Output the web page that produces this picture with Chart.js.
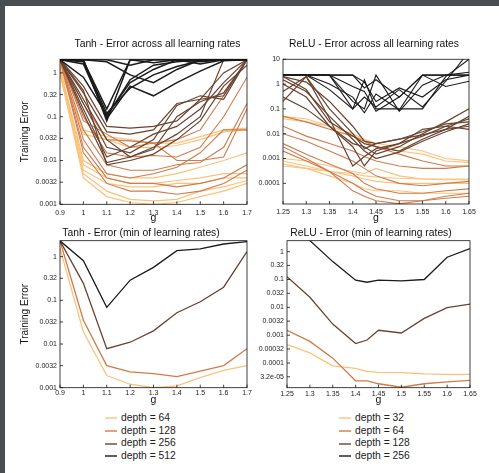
<!DOCTYPE html>
<html>
<head>
<meta charset="utf-8">
<script src="https://cdn.jsdelivr.net/npm/chart.js@4.4.1/dist/chart.umd.min.js"></script>
<style>
  html, body { margin: 0; padding: 0; background: #fff; overflow: hidden; }
  #page { position: relative; width: 499px; height: 473px; background: #fff; overflow: hidden; }
  .strip { position: absolute; background: #4b4e51; }
  canvas { position: absolute; }
  .legend { position: absolute; font-family: 'Liberation Sans', Arial, sans-serif; font-size: 10.3px; color: #222; }
  .legend div { height: 12.7px; line-height: 12.7px; white-space: nowrap; }
  .legend span { display: inline-block; width: 12px; height: 2px; vertical-align: middle; margin-right: 4px; opacity: 0.7; }
</style>
</head>
<body>
<div id="page">
  <div class="strip" style="left:0;top:0;width:5px;height:473px"></div>
  <div class="strip" style="left:0;top:0;width:499px;height:6px"></div>
  <canvas id="tanhAll" width="295" height="196" style="left:10px;top:28px"></canvas>
  <canvas id="reluAll" width="248" height="196" style="left:250px;top:28px"></canvas>
  <canvas id="tanhMin" width="262" height="188" style="left:10px;top:218px"></canvas>
  <canvas id="reluMin" width="242" height="188" style="left:250px;top:218px"></canvas>
  <div class="legend" id="tanhLegend" style="left:105px;top:412px"></div>
  <div class="legend" id="reluLegend" style="left:339px;top:412px"></div>
</div>
<script>
const FONT = "'Liberation Sans', Arial, sans-serif";

// x values (g)
const gTanh = [0.9, 1.0, 1.1, 1.2, 1.3, 1.4, 1.5, 1.6, 1.7];
const gRelu = [1.25, 1.3, 1.35, 1.4, 1.425, 1.45, 1.5, 1.55, 1.6, 1.65];

// tick values / labels
const tanhXTicks = [0.9, 1.0, 1.1, 1.2, 1.3, 1.4, 1.5, 1.6, 1.7];
const tanhXLabels = ['0.9', '1', '1.1', '1.2', '1.3', '1.4', '1.5', '1.6', '1.7'];
const reluXTicks = [1.25, 1.3, 1.35, 1.4, 1.45, 1.5, 1.55, 1.6, 1.65];
const reluXLabels = ['1.25', '1.3', '1.35', '1.4', '1.45', '1.5', '1.55', '1.6', '1.65'];
const tanhYTicks = [1, 0.32, 0.1, 0.032, 0.01, 0.0032, 0.001];
const tanhYLabels = ['1', '0.32', '0.1', '0.032', '0.01', '0.0032', '0.001'];
const reluAllYTicks = [10, 1, 0.1, 0.01, 0.001, 0.0001];
const reluAllYLabels = ['10', '1', '0.1', '0.01', '0.001', '0.0001'];
const reluMinYTicks = [1, 0.32, 0.1, 0.032, 0.01, 0.0032, 0.001, 0.00032, 0.0001, 0.000032];
const reluMinYLabels = ['1', '0.32', '0.1', '0.032', '0.01', '0.0032', '0.001', '0.00032', '0.0001', '3.2e-05'];

// legend
const tanhDepths = ['depth = 64', 'depth = 128', 'depth = 256', 'depth = 512'];
const reluDepths = ['depth = 32', 'depth = 64', 'depth = 128', 'depth = 256'];
const depthColors = ['#fcc27a', '#d07b4b', '#6a4330', '#1b1b1b'];

// Tanh, every learning rate (one row per learning rate)
const tanhAll512 = [
  [2, 2, 0.08, 2, 2, 2, 2, 2, 2],
  [2, 1.6, 0.1, 0.7, 1.5, 1.8, 2, 2, 2],
  [2, 1.8, 0.12, 0.45, 0.9, 1.4, 1.9, 2, 2],
  [2, 2, 0.09, 0.5, 0.3, 0.6, 1.1, 1.9, 2],
  [2, 2, 1.8, 0.9, 0.6, 1.2, 2, 2, 2],
  [2, 2, 2, 1.5, 2, 2, 2, 2, 2],
  [2, 1.9, 0.15, 2, 1.7, 2, 1.6, 2, 2],
  [2, 0.8, 0.11, 0.6, 1.2, 2, 1.8, 2, 2]
];
const tanhAll256 = [
  [2, 0.5, 0.06, 0.055, 0.06, 0.08, 0.25, 1.0, 2],
  [2, 0.35, 0.045, 0.04, 0.05, 0.2, 0.25, 0.3, 2],
  [2, 0.25, 0.03, 0.012, 0.02, 0.04, 0.1, 2, 2],
  [2, 0.2, 0.02, 0.015, 0.03, 0.18, 0.3, 0.25, 2],
  [2, 0.15, 0.012, 0.02, 0.04, 0.06, 0.15, 0.6, 2],
  [2, 0.12, 0.009, 0.012, 0.018, 0.1, 0.22, 0.35, 2],
  [2, 0.4, 0.008, 0.01, 0.014, 0.03, 0.08, 0.5, 1.5]
];
const tanhAll128 = [
  [2, 0.2, 0.03, 0.028, 0.025, 0.03, 0.05, 0.3, 2],
  [2, 0.1, 0.015, 0.012, 0.013, 0.012, 0.02, 0.1, 0.8],
  [2, 0.05, 0.008, 0.006, 0.006, 0.008, 0.009, 0.02, 0.2],
  [2, 0.03, 0.005, 0.004, 0.005, 0.007, 0.015, 0.05, 0.05],
  [2, 0.02, 0.004, 0.003, 0.003, 0.0025, 0.003, 0.004, 0.008],
  [2, 0.015, 0.003, 0.002, 0.002, 0.0017, 0.002, 0.003, 0.006],
  [2, 0.08, 0.04, 0.02, 0.025, 0.01, 0.01, 0.012, 0.15]
];
const tanhAll64 = [
  [1.2, 0.05, 0.035, 0.03, 0.025, 0.025, 0.035, 0.05, 0.055],
  [1.5, 0.04, 0.03, 0.02, 0.02, 0.022, 0.03, 0.045, 0.05],
  [1.3, 0.01, 0.005, 0.004, 0.004, 0.005, 0.007, 0.01, 0.015],
  [1.2, 0.008, 0.004, 0.003, 0.003, 0.0035, 0.004, 0.005, 0.005],
  [1.1, 0.006, 0.003, 0.0025, 0.0025, 0.003, 0.003, 0.004, 0.004],
  [1.0, 0.004, 0.0015, 0.0011, 0.001, 0.0011, 0.0015, 0.002, 0.003],
  [1.0, 0.005, 0.002, 0.0013, 0.0012, 0.0013, 0.002, 0.0025, 0.0035]
];

// ReLU, every learning rate
const reluAll256 = [
  [2.3, 2.3, 2.3, 2.3, 0.7, 1.5, 0.3, 2.3, 2.3, 2.3],
  [2.3, 2.3, 2.3, 0.1, 1.5, 0.1, 0.1, 0.1, 2, 10],
  [2.3, 2.3, 0.6, 0.1, 0.3, 0.12, 0.6, 0.12, 1.3, 20],
  [2.3, 2.3, 2.3, 0.2, 0.1, 2.3, 0.08, 0.9, 2.3, 3],
  [2.3, 2.3, 1, 0.3, 0.07, 0.4, 0.09, 2.3, 0.8, 1.3],
  [2.3, 2.3, 2.3, 2.3, 1.2, 0.2, 0.7, 0.3, 1.5, 2.3],
  [2.3, 2.3, 2.3, 0.8, 0.5, 0.08, 0.3, 2.3, 2.3, 2.3]
];
const reluAll128 = [
  [2, 0.6, 0.03, 0.008, 0.004, 0.003, 0.002, 0.006, 0.015, 0.05],
  [1, 0.3, 0.02, 0.004, 0.003, 0.0015, 0.003, 0.01, 0.03, 0.1],
  [0.5, 2, 0.1, 0.01, 0.0025, 0.004, 0.006, 0.012, 0.025, 0.03],
  [0.3, 0.1, 0.02, 0.003, 0.0005, 0.002, 0.004, 0.008, 0.02, 0.04],
  [0.2, 2, 0.04, 0.0005, 0.0012, 0.0025, 0.004, 0.015, 0.02, 0.015],
  [1.5, 0.5, 0.05, 0.006, 0.002, 0.001, 0.0018, 0.005, 0.012, 0.025],
  [2, 1.2, 0.2, 0.02, 0.005, 0.004, 0.006, 0.009, 0.015, 0.02]
];
const reluAll64 = [
  [0.05, 0.03, 0.015, 0.008, 0.005, 0.003, 0.0015, 0.0008, 0.0005, 0.0005],
  [0.02, 0.008, 0.004, 0.002, 0.0012, 0.0008, 0.0005, 0.0004, 0.0004, 0.0005],
  [0.01, 0.005, 0.002, 0.0008, 0.0004, 0.0002, 0.0001, 0.00008, 0.0001, 0.00012],
  [0.004, 0.0015, 0.0006, 0.00025, 0.0001, 0.00006, 0.00004, 0.00004, 0.00005, 0.00006],
  [0.002, 0.0008, 0.0003, 0.0001, 0.00005, 0.00003, 0.00002, 0.00002, 0.00003, 0.00004],
  [0.003, 0.001, 0.0003, 0.00005, 0.00003, 0.00002, 0.000015, 0.00002, 0.000025, 0.00003]
];
const reluAll32 = [
  [0.05, 0.04, 0.02, 0.01, 0.006, 0.004, 0.003, 0.002, 0.001, 0.0008],
  [0.04, 0.03, 0.02, 0.01, 0.005, 0.003, 0.002, 0.0015, 0.0008, 0.0007],
  [0.001, 0.0008, 0.0005, 0.0003, 0.00025, 0.0004, 0.0002, 0.00015, 0.00014, 0.00014],
  [0.0008, 0.0005, 0.0003, 0.00025, 0.0002, 0.00018, 0.00016, 0.00015, 0.00015, 0.00015],
  [0.0005, 0.0004, 0.0003, 0.0002, 0.00015, 0.00012, 0.0001, 0.0001, 0.0001, 0.0001],
  [0.0006, 0.0004, 0.0002, 0.0001, 0.00006, 0.00005, 0.00005, 0.00004, 0.00004, 0.00004]
];

// minimum over learning rates
const tanhMin512 = [2.3, 0.81, 0.069, 0.29, 0.57, 1.37, 1.5, 1.95, 2.2];
const tanhMin256 = [2.3, 0.245, 0.0078, 0.011, 0.02, 0.052, 0.093, 0.2, 1.3];
const tanhMin128 = [2.3, 0.035, 0.0032, 0.0023, 0.0021, 0.0018, 0.0024, 0.0032, 0.0078];
const tanhMin64 = [1.55, 0.019, 0.0019, 0.0012, 0.001, 0.0011, 0.0017, 0.0025, 0.0032];
const reluMin256 = [6, 2.5, 0.44, 0.095, 0.08, 0.095, 0.09, 0.1, 0.63, 1.3];
const reluMin128 = [0.126, 0.023, 0.0025, 0.0005, 0.00067, 0.0015, 0.0012, 0.004, 0.0098, 0.013];
const reluMin64 = [0.0015, 0.0006, 0.00015, 0.000023, 0.000023, 0.000018, 0.0000135, 0.000018, 0.000021, 0.000024];
const reluMin32 = [0.00046, 0.00023, 0.000079, 0.000064, 0.00005, 0.000046, 0.000045, 0.000041, 0.000039, 0.000039];

function series(xs, vals, color, width, label) {
  return {
    label: label || '',
    data: xs.map((x, i) => ({ x, y: vals[i] })),
    borderColor: color,
    borderWidth: width,
    pointRadius: 0,
    tension: 0,
    fill: false
  };
}

// darkest group first so it is drawn on top
function groupSets(xs, groups, widths) {
  const sets = [];
  groups.forEach((rows, gi) => {
    rows.forEach(vals => sets.push(series(xs, vals, depthColors[3 - gi], widths[gi])));
  });
  return sets;
}

const framePlugin = {
  id: 'frame',
  afterDatasetsDraw(chart) {
    const { ctx, chartArea: a, scales } = chart;
    ctx.save();
    ctx.strokeStyle = '#111';
    ctx.lineWidth = 0.8;
    ctx.strokeRect(a.left, a.top, a.right - a.left, a.bottom - a.top);
    ctx.beginPath();
    scales.x.ticks.forEach(t => {
      const px = scales.x.getPixelForValue(t.value);
      ctx.moveTo(px, a.bottom);
      ctx.lineTo(px, a.bottom - 3);
    });
    scales.y.ticks.forEach(t => {
      const py = scales.y.getPixelForValue(t.value);
      ctx.moveTo(a.left, py);
      ctx.lineTo(a.left + 3, py);
    });
    ctx.stroke();
    ctx.restore();
  }
};

function makeChart(id, o) {
  return new Chart(document.getElementById(id), {
    type: 'line',
    data: { datasets: o.datasets },
    options: {
      responsive: false,
      animation: false,
      events: [],
      layout: { padding: 0 },
      plugins: {
        legend: { display: false },
        tooltip: { enabled: false },
        title: {
          display: true,
          text: o.title,
          color: '#111',
          font: { family: FONT, size: 10.3, weight: 'normal' },
          padding: { top: o.titleTop, bottom: o.titleBottom }
        }
      },
      scales: {
        x: {
          type: 'linear',
          min: o.xMin,
          max: o.xMax,
          bounds: 'data',
          grid: { display: false, drawTicks: false },
          border: { display: false },
          ticks: {
            autoSkip: false, maxRotation: 0, padding: o.xPad,
            color: '#222', font: { family: FONT, size: 7 },
            callback: (v, i) => o.xLabels[i]
          },
          afterBuildTicks: s => { s.ticks = o.xTicks.map(v => ({ value: v })); },
          afterFit: s => { s.height = o.xHeight; },
          title: { display: true, text: 'g', color: '#111', padding: 0, font: { family: FONT, size: 10.5 } }
        },
        y: {
          type: 'logarithmic',
          min: o.yMin,
          max: o.yMax,
          bounds: 'data',
          grid: { display: false, drawTicks: false },
          border: { display: false },
          ticks: {
            autoSkip: false, padding: 3,
            color: '#222', font: { family: FONT, size: 7 },
            callback: (v, i) => o.yLabels[i]
          },
          afterBuildTicks: s => { s.ticks = o.yTicks.map(v => ({ value: v })); },
          afterFit: s => { s.width = o.yWidth; },
          title: o.yTitle
            ? { display: true, text: 'Training Error', color: '#111', padding: { top: 9, bottom: 0 }, font: { family: FONT, size: 10 } }
            : { display: false }
        },
        pad: {
          position: 'right',
          grid: { display: false, drawTicks: false },
          border: { display: false },
          ticks: { display: false },
          afterFit: s => { s.width = o.rightWidth; }
        }
      }
    },
    plugins: [framePlugin]
  });
}

makeChart('tanhAll', {
  title: 'Tanh - Error across all learning rates',
  datasets: groupSets(gTanh, [tanhAll512, tanhAll256, tanhAll128, tanhAll64], [1.5, 1.2, 1.1, 1.2]),
  xMin: 0.9, xMax: 1.7, xTicks: tanhXTicks, xLabels: tanhXLabels, xPad: 4.2, xHeight: 19.7,
  yMin: 0.001, yMax: 2.05, yTicks: tanhYTicks, yLabels: tanhYLabels, yWidth: 50, yTitle: true,
  rightWidth: 58, titleTop: 10.3, titleBottom: 8.6
});

makeChart('reluAll', {
  title: 'ReLU - Error across all learning rates',
  datasets: groupSets(gRelu, [reluAll256, reluAll128, reluAll64, reluAll32], [1.1, 1.2, 1.1, 1.1]),
  xMin: 1.25, xMax: 1.65, xTicks: reluXTicks, xLabels: reluXLabels, xPad: 3.5, xHeight: 20,
  yMin: 0.0000147, yMax: 10, yTicks: reluAllYTicks, yLabels: reluAllYLabels, yWidth: 33, yTitle: false,
  rightWidth: 29, titleTop: 10.3, titleBottom: 8.6
});

makeChart('tanhMin', {
  title: 'Tanh - Error (min of learning rates)',
  datasets: [
    series(gTanh, tanhMin512, depthColors[3], 1.3, tanhDepths[3]),
    series(gTanh, tanhMin256, depthColors[2], 1.3, tanhDepths[2]),
    series(gTanh, tanhMin128, depthColors[1], 1.3, tanhDepths[1]),
    series(gTanh, tanhMin64, depthColors[0], 1.3, tanhDepths[0])
  ],
  xMin: 0.9, xMax: 1.7, xTicks: tanhXTicks, xLabels: tanhXLabels, xPad: 1.4, xHeight: 18.3,
  yMin: 0.001, yMax: 2.32, yTicks: tanhYTicks, yLabels: tanhYLabels, yWidth: 50, yTitle: true,
  rightWidth: 25, titleTop: 8.5, titleBottom: 1.84
});

makeChart('reluMin', {
  title: 'ReLU - Error (min of learning rates)',
  datasets: [
    series(gRelu, reluMin256, depthColors[3], 1.3, reluDepths[3]),
    series(gRelu, reluMin128, depthColors[2], 1.3, reluDepths[2]),
    series(gRelu, reluMin64, depthColors[1], 1.3, reluDepths[1]),
    series(gRelu, reluMin32, depthColors[0], 1.3, reluDepths[0])
  ],
  xMin: 1.25, xMax: 1.65, xTicks: reluXTicks, xLabels: reluXLabels, xPad: 2.1, xHeight: 18.3,
  yMin: 0.000013, yMax: 2.48, yTicks: reluMinYTicks, yLabels: reluMinYLabels, yWidth: 37, yTitle: false,
  rightWidth: 22, titleTop: 8.5, titleBottom: 1.84
});

function buildLegend(id, labels) {
  const box = document.getElementById(id);
  labels.forEach((text, i) => {
    const row = document.createElement('div');
    const swatch = document.createElement('span');
    swatch.style.background = depthColors[i];
    row.appendChild(swatch);
    row.appendChild(document.createTextNode(text));
    box.appendChild(row);
  });
}
buildLegend('tanhLegend', tanhDepths);
buildLegend('reluLegend', reluDepths);
</script>
</body>
</html>
